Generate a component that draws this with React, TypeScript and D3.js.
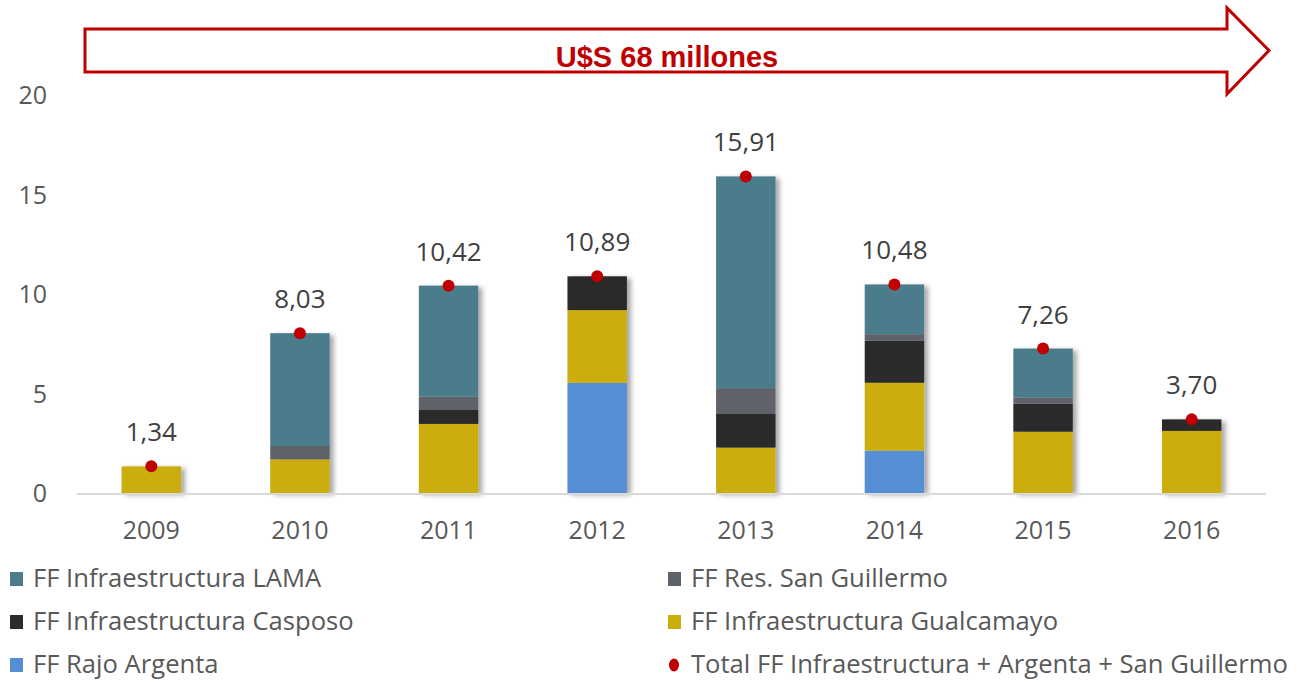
import { useEffect, useRef } from "react";
import * as d3 from "d3";

const years = ["2009", "2010", "2011", "2012", "2013", "2014", "2015", "2016"];

// stack order bottom -> top
const rajoArgenta = [0, 0, 0, 5.54, 0, 2.13, 0, 0];
const gualcamayo = [1.34, 1.69, 3.47, 3.65, 2.28, 3.41, 3.08, 3.12];
const casposo = [0, 0, 0.7, 1.7, 1.69, 2.12, 1.41, 0.58];
const sanGuillermo = [0, 0.67, 0.67, 0, 1.3, 0.32, 0.3, 0];
const lama = [0, 5.67, 5.58, 0, 10.64, 2.5, 2.47, 0];

const totals = [1.34, 8.03, 10.42, 10.89, 15.91, 10.48, 7.26, 3.7];
const totalLabels = ["1,34", "8,03", "10,42", "10,89", "15,91", "10,48", "7,26", "3,70"];

const yTicks = [0, 5, 10, 15, 20];
const bannerText = "U$S 68 millones";

const seriesDefs = [
  { key: "rajo", name: "FF Rajo Argenta", values: rajoArgenta, color: "#558ed5" },
  { key: "gual", name: "FF Infraestructura Gualcamayo", values: gualcamayo, color: "#cbae0c" },
  { key: "casp", name: "FF Infraestructura Casposo", values: casposo, color: "#2c2c2c" },
  { key: "sang", name: "FF Res. San Guillermo", values: sanGuillermo, color: "#5e6269" },
  { key: "lama", name: "FF Infraestructura LAMA", values: lama, color: "#4c7b8b" },
];

const legendOrder = ["lama", "sang", "casp", "gual", "rajo"];
const totalName = "Total FF Infraestructura + Argenta + San Guillermo";

const W = 1297;
const H = 682;
const font = "'Open Sans', 'DejaVu Sans', sans-serif";

const App = () => {
  const svgRef = useRef(null);

  useEffect(() => {
    const svg = d3.select(svgRef.current);
    svg.selectAll("*").remove();

    const margin = { top: 95, right: 31, bottom: 189, left: 77 };

    const x = d3
      .scaleBand()
      .domain(years)
      .range([margin.left, W - margin.right])
      .paddingInner(0.6)
      .paddingOuter(0.3);

    const y = d3
      .scaleLinear()
      .domain([0, 20])
      .range([H - margin.bottom, margin.top]);

    const defs = svg.append("defs");
    defs
      .append("filter")
      .attr("id", "shadow")
      .attr("x", "-20%")
      .attr("y", "-10%")
      .attr("width", "150%")
      .attr("height", "130%")
      .append("feDropShadow")
      .attr("dx", 4)
      .attr("dy", 2)
      .attr("stdDeviation", 2.5)
      .attr("flood-color", "#000")
      .attr("flood-opacity", 0.35);

    // banner arrow
    const bx0 = 85,
      bx1 = 1227,
      btop = 29,
      bbot = 72,
      htop = 8,
      hbot = 94,
      tip = 1269;
    const mid = (btop + bbot) / 2;
    svg
      .append("path")
      .attr(
        "d",
        `M${bx0},${btop}L${bx1},${btop}L${bx1},${htop}L${tip},${mid}L${bx1},${hbot}L${bx1},${bbot}L${bx0},${bbot}Z`
      )
      .attr("fill", "#fff")
      .attr("stroke", "#c00000")
      .attr("stroke-width", 3);
    svg
      .append("text")
      .attr("x", 667)
      .attr("y", 67)
      .attr("text-anchor", "middle")
      .attr("fill", "#c00000")
      .attr("font-family", "'Liberation Sans', Arial, sans-serif")
      .attr("font-weight", "bold")
      .attr("font-size", 29)
      .text(bannerText);

    // y axis labels
    svg
      .append("g")
      .selectAll("text")
      .data(yTicks)
      .join("text")
      .attr("x", 47)
      .attr("y", (d) => y(d) + 9)
      .attr("text-anchor", "end")
      .attr("fill", "#595959")
      .attr("font-family", font)
      .attr("font-size", 25)
      .text((d) => d);

    // stacked bars
    const rows = years.map((yr, i) => {
      const r = { year: yr };
      seriesDefs.forEach((s) => (r[s.key] = s.values[i]));
      return r;
    });
    const stacked = d3.stack().keys(seriesDefs.map((s) => s.key))(rows);

    const bars = svg.append("g").attr("filter", "url(#shadow)");
    stacked.forEach((layer, li) => {
      bars
        .append("g")
        .attr("fill", seriesDefs[li].color)
        .selectAll("rect")
        .data(layer.filter((d) => d[1] - d[0] > 0))
        .join("rect")
        .attr("x", (d) => x(d.data.year))
        .attr("width", x.bandwidth())
        .attr("y", (d) => y(d[1]))
        .attr("height", (d) => y(d[0]) - y(d[1]));
    });

    // baseline
    svg
      .append("line")
      .attr("x1", margin.left)
      .attr("x2", W - margin.right)
      .attr("y1", y(0) + 1)
      .attr("y2", y(0) + 1)
      .attr("stroke", "#d9d9d9")
      .attr("stroke-width", 2);

    // x axis labels
    svg
      .append("g")
      .selectAll("text")
      .data(years)
      .join("text")
      .attr("x", (d) => x(d) + x.bandwidth() / 2)
      .attr("y", 539)
      .attr("text-anchor", "middle")
      .attr("fill", "#595959")
      .attr("font-family", font)
      .attr("font-size", 25)
      .text((d) => d);

    // totals dots + labels
    svg
      .append("g")
      .selectAll("circle")
      .data(totals)
      .join("circle")
      .attr("cx", (d, i) => x(years[i]) + x.bandwidth() / 2)
      .attr("cy", (d) => y(d))
      .attr("r", 6)
      .attr("fill", "#c00000");

    svg
      .append("g")
      .selectAll("text")
      .data(totals)
      .join("text")
      .attr("x", (d, i) => x(years[i]) + x.bandwidth() / 2)
      .attr("y", (d) => y(d) - 25)
      .attr("text-anchor", "middle")
      .attr("fill", "#404040")
      .attr("font-family", font)
      .attr("font-size", 26)
      .text((d, i) => totalLabels[i]);

    // legend
    const legendItems = legendOrder.map((k) => {
      const s = seriesDefs.find((d) => d.key === k);
      return { name: s.name, color: s.color, dot: false };
    });
    legendItems.push({ name: totalName, color: "#c00000", dot: true });

    const lg = svg.append("g");
    legendItems.forEach((it, i) => {
      const col = i % 2;
      const row = Math.floor(i / 2);
      const lx = col === 0 ? 10 : 668;
      const ly = 579 + row * 43;
      if (it.dot) {
        lg.append("ellipse")
          .attr("cx", lx + 6)
          .attr("cy", ly)
          .attr("rx", 5)
          .attr("ry", 6.5)
          .attr("fill", it.color);
      } else {
        lg.append("rect")
          .attr("x", lx)
          .attr("y", ly - 7)
          .attr("width", 13)
          .attr("height", 14)
          .attr("fill", it.color);
      }
      lg.append("text")
        .attr("x", lx + 23)
        .attr("y", ly + 8)
        .attr("fill", "#595959")
        .attr("font-family", font)
        .attr("font-size", 25.6)
        .text(it.name);
    });
  }, []);

  return (
    <svg
      ref={svgRef}
      width={W}
      height={H}
      style={{ position: "absolute", left: 0, top: 0, background: "#fff" }}
    />
  );
};

export default App;
